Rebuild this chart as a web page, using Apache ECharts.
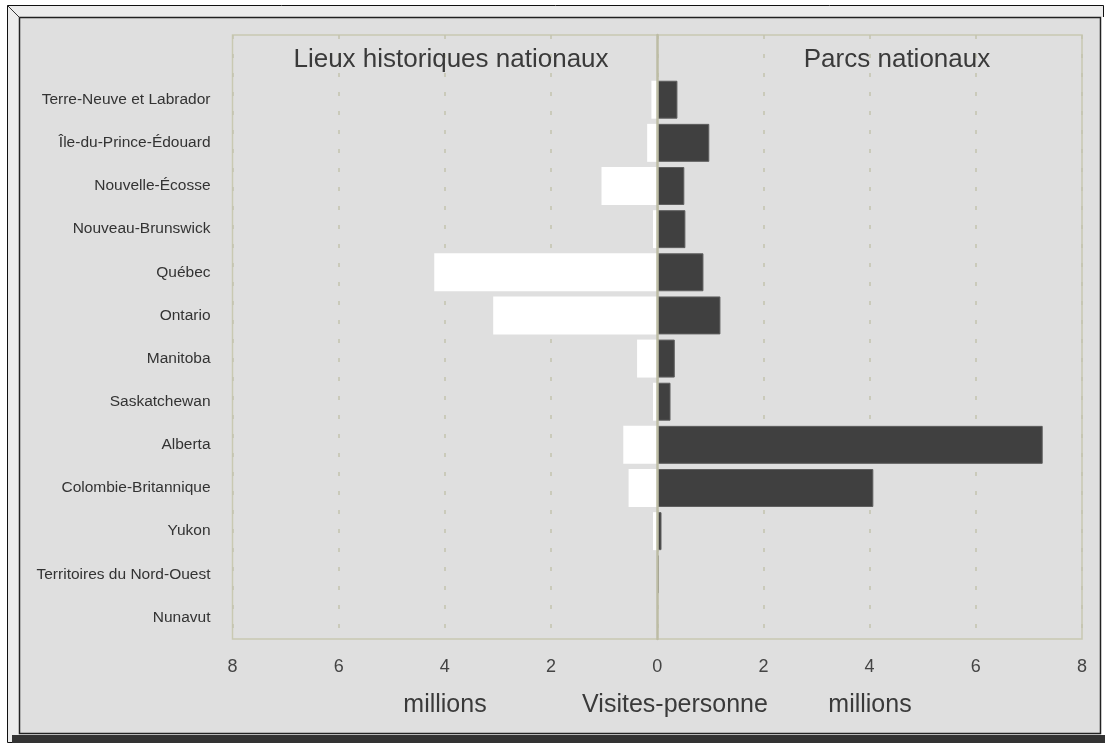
<!DOCTYPE html>
<html>
<head>
<meta charset="utf-8">
<script src="https://cdn.jsdelivr.net/npm/echarts@6/dist/echarts.min.js"></script>
<style>
html,body{margin:0;padding:0;background:#fff;}
#c{width:1105px;height:743px;}
</style>
</head>
<body>
<div id="c"></div>
<script>
var categories = ['Terre-Neuve et Labrador', 'Île-du-Prince-Édouard', 'Nouvelle-Écosse', 'Nouveau-Brunswick', 'Québec', 'Ontario', 'Manitoba', 'Saskatchewan', 'Alberta', 'Colombie-Britannique', 'Yukon', 'Territoires du Nord-Ouest', 'Nunavut'];
var lieuxHistoriques = [0.11, 0.19, 1.05, 0.08, 4.2, 3.09, 0.38, 0.08, 0.64, 0.54, 0.08, 0, 0];
var parcsNationaux = [0.38, 0.98, 0.51, 0.53, 0.87, 1.19, 0.33, 0.25, 7.26, 4.07, 0.08, 0.03, 0.01];
var xTicks = [-8, -6, -4, -2, 0, 2, 4, 6, 8];

var FONT = '"Liberation Sans", Arial, sans-serif';
var yData = [''].concat(categories);
var leftData = [null].concat(lieuxHistoriques.map(function (v) { return -v; }));
var rightData = [null].concat(parcsNationaux);

var chart = echarts.init(document.getElementById('c'), null, {renderer: 'canvas'});
chart.setOption({
  backgroundColor: '#ffffff',
  animation: false,
  textStyle: {fontFamily: FONT},
  graphic: [
    {type: 'rect', z: -10, silent: true, shape: {x: 7.5, y: 5.5, width: 1096, height: 737}, style: {fill: '#ececec', stroke: '#111', lineWidth: 1}},
    {type: 'rect', z: -9, silent: true, shape: {x: 1101, y: 17, width: 3, height: 718}, style: {fill: '#ffffff'}},
    {type: 'rect', z: -9, silent: true, shape: {x: 12, y: 735, width: 1093, height: 8}, style: {fill: '#333333'}},
    {type: 'rect', z: -8, silent: true, shape: {x: 19.5, y: 17.5, width: 1081, height: 716}, style: {fill: '#dfdfdf', stroke: '#222', lineWidth: 1.5}},
    {type: 'line', z: -8, silent: true, shape: {x1: 7.5, y1: 5.5, x2: 19.5, y2: 17.5}, style: {stroke: '#333', lineWidth: 1}},
    {type: 'text', z: 5, silent: true, x: 451, y: 60, style: {text: 'Lieux historiques nationaux', fontSize: 26, fontFamily: FONT, fill: '#3a3a3a', align: 'center', verticalAlign: 'middle'}},
    {type: 'text', z: 5, silent: true, x: 897, y: 60, style: {text: 'Parcs nationaux', fontSize: 26, fontFamily: FONT, fill: '#3a3a3a', align: 'center', verticalAlign: 'middle'}},
    {type: 'text', z: 5, silent: true, x: 445, y: 705, style: {text: 'millions', fontSize: 25, fontFamily: FONT, fill: '#3a3a3a', align: 'center', verticalAlign: 'middle'}},
    {type: 'text', z: 5, silent: true, x: 675, y: 705, style: {text: 'Visites-personne', fontSize: 25, fontFamily: FONT, fill: '#3a3a3a', align: 'center', verticalAlign: 'middle'}},
    {type: 'text', z: 5, silent: true, x: 870, y: 705, style: {text: 'millions', fontSize: 25, fontFamily: FONT, fill: '#3a3a3a', align: 'center', verticalAlign: 'middle'}}
  ],
  grid: {
    left: 232.5, top: 35, width: 849.5, height: 604,
    show: true, borderColor: '#c9c9b2', borderWidth: 1.5, backgroundColor: 'transparent',
    containLabel: false
  },
  xAxis: {
    type: 'value', min: xTicks[0], max: xTicks[xTicks.length - 1], interval: 2,
    axisLine: {show: false}, axisTick: {show: false},
    axisLabel: {
      fontSize: 18, color: '#444', margin: 19, fontFamily: FONT,
      formatter: function (v) { return String(Math.abs(v)); }
    },
    splitLine: {show: true, lineStyle: {color: '#c4c4ae', width: 1.5, type: [4, 15]}}
  },
  yAxis: {
    type: 'category', inverse: true, data: yData, z: 3,
    axisLine: {show: true, onZero: true, lineStyle: {color: '#bdbca5', width: 2.5}},
    axisTick: {show: false},
    axisLabel: {fontSize: 15.5, color: '#333', margin: 22, fontFamily: FONT},
    splitLine: {show: false}
  },
  series: [
    {
      name: 'Lieux historiques nationaux', type: 'bar', stack: 'v', data: leftData,
      barCategoryGap: '12%',
      itemStyle: {color: '#ffffff'}
    },
    {
      name: 'Parcs nationaux', type: 'bar', stack: 'v', data: rightData,
      barCategoryGap: '12%',
      itemStyle: {color: '#404040', borderColor: '#5e5e5e', borderWidth: 1}
    }
  ]
});
</script>
</body>
</html>
